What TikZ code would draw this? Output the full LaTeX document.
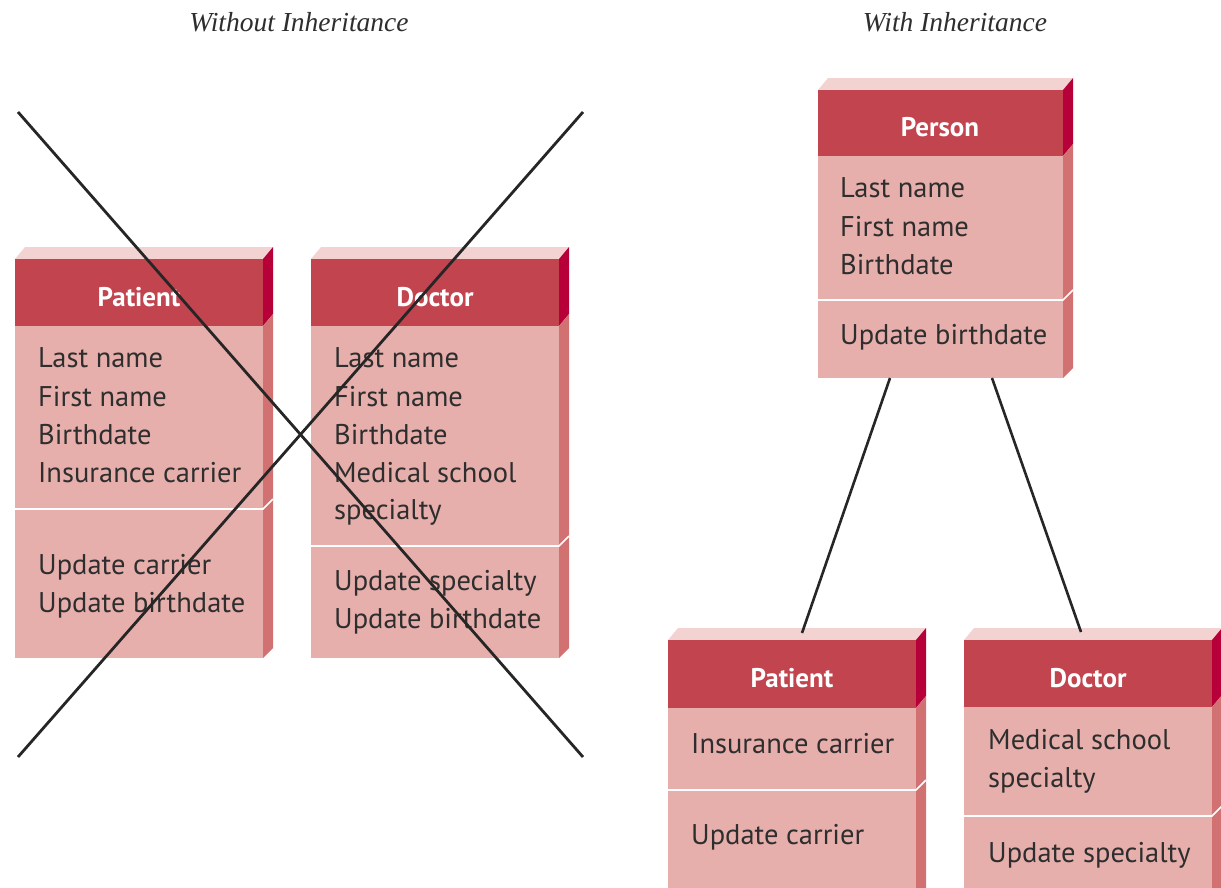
\documentclass[tikz,border=0pt]{standalone}
\usepackage{fontspec}
\setmainfont{PT Sans}
\newfontfamily\titlefont{Liberation Serif}
\usetikzlibrary{calc}
\definecolor{topc}{HTML}{F2D3D1}
\definecolor{headc}{HTML}{C1444F}
\definecolor{bodyc}{HTML}{E7AFAC}
\definecolor{sidebody}{HTML}{D27171}
\definecolor{sidehead}{HTML}{B7003A}
\definecolor{txtc}{HTML}{2E2E2E}
\newcommand\classbox[7]{% name, x1, x2, ytop, yhead, ydiv, ybot
  \fill[topc] (#2,#4) -- (#2+10,#4-12) -- (#3+10,#4-12) -- (#3,#4) -- cycle;
  \fill[sidehead] (#3,#4) -- (#3+10,#4-12) -- (#3+10,#5-12) -- (#3,#5) -- cycle;
  \fill[sidebody] (#3,#5) -- (#3+10,#5-12) -- (#3+10,#7-10) -- (#3,#7) -- cycle;
  \fill[headc] (#2,#4) rectangle (#3,#5);
  \fill[bodyc] (#2,#5) rectangle (#3,#7);
  \draw[divline] (#2,#6) -- (#3,#6) -- (#3+10,#6-10);
  \node[boxnode, minimum width={(#3-#2)*1pt}, minimum height={(#7-#4)*1pt}, anchor=north west] (#1) at (#2,#4) {};
}
\begin{document}
\begin{tikzpicture}[x=1pt,y=-1pt,
  boxnode/.style={inner sep=0pt, outer sep=0pt, draw=none},
  divline/.style={white, line width=1.6pt},
  head/.style={text=white, font=\bfseries\fontsize{27}{30}\selectfont, inner sep=0pt, anchor=base},
  attr/.style={text=txtc, font=\fontsize{28.5}{30}\selectfont, inner sep=0pt, anchor=base west},
  ttl/.style={text=txtc, font=\titlefont\itshape\fontsize{27.5}{30}\selectfont, inner sep=0pt, anchor=base},
  cross/.style={line width=2.8pt, black!85},
  conn/.style={line width=2.6pt, black!85}]
\useasboundingbox (0,0) rectangle (1221,887);
\clip (0,0) rectangle (1221,887);
\fill[white] (0,0) rectangle (1221,887);

% titles
\node[ttl] (t1) at (299,31) {Without Inheritance};
\node[ttl] (t2) at (955,31) {With Inheritance};

% left patient
\classbox{lpatient}{15}{263}{259}{326}{509}{658}
\node[head] (lpatientH) at (139,306) {Patient};
\node[attr] (lp1) at (38,367) {Last name};
\node[attr] (lp2) at (38,406) {First name};
\node[attr] (lp3) at (38,444) {Birthdate};
\node[attr] (lp4) at (38,482) {Insurance carrier};
\node[attr] (lp5) at (38,574) {Update carrier};
\node[attr] (lp6) at (38,612) {Update birthdate};

% left doctor
\classbox{ldoctor}{311}{559}{259}{326}{546}{658}
\node[head] (ldoctorH) at (435,306) {Doctor};
\node[attr] (ld1) at (334,367) {Last name};
\node[attr] (ld2) at (334,406) {First name};
\node[attr] (ld3) at (334,444) {Birthdate};
\node[attr] (ld4) at (334,482) {Medical school};
\node[attr] (ld5) at (334,519) {specialty};
\node[attr] (ld6) at (334,590) {Update specialty};
\node[attr] (ld7) at (334,628) {Update birthdate};

% person
\classbox{person}{818}{1063}{90}{156}{300}{378}
\node[head] (personH) at (940,136) {Person};
\node[attr] (p1) at (840,197) {Last name};
\node[attr] (p2) at (840,236) {First name};
\node[attr] (p3) at (840,274) {Birthdate};
\node[attr] (p4) at (840,344) {Update birthdate};

% right patient
\classbox{rpatient}{668}{916}{640}{708}{790}{900}
\node[head] (rpatientH) at (792,687) {Patient};
\node[attr] (rp1) at (691,753) {Insurance carrier};
\node[attr] (rp2) at (691,844) {Update carrier};

% right doctor
\classbox{rdoctor}{964}{1212}{640}{707}{816}{900}
\node[head] (rdoctorH) at (1088,687) {Doctor};
\node[attr] (rd1) at (988,749) {Medical school};
\node[attr] (rd2) at (988,787) {specialty};
\node[attr] (rd3) at (988,862) {Update specialty};

% connectors
\draw[conn] ($(person.south west)+(72,0)$) -- ($(rpatient.north west)+(134,-7)$);
\draw[conn] ($(person.south west)+(174,0)$) -- ($(rdoctor.north west)+(117,-8)$);

% cross
\coordinate (c1) at (18,112);
\coordinate (c2) at (583,757);
\coordinate (c3) at (583,112);
\coordinate (c4) at (18,757);
\draw[cross] (c1) -- (c2);
\draw[cross] (c3) -- (c4);
\end{tikzpicture}
\end{document}
